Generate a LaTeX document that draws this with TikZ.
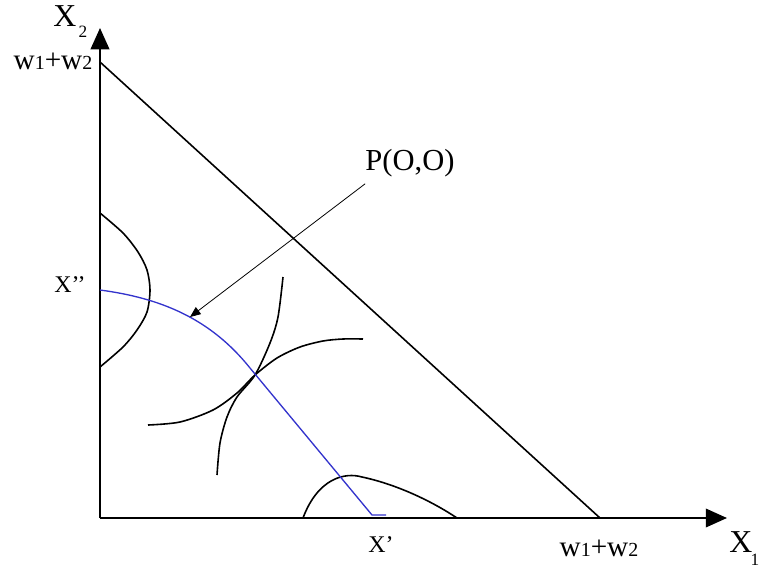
\documentclass[tikz,border=0pt]{standalone}
\usepackage{fontspec}
\setmainfont{Liberation Serif}
\usepackage{xcolor}
\definecolor{ccblue}{RGB}{51,51,204}
\usetikzlibrary{arrows.meta,positioning}
\tikzset{
  axis/.style={line width=1.5pt, -{Triangle[length=16pt,width=14pt]}},
  budget/.style={line width=1.2pt},
  icurve/.style={line width=1.2pt},
  contract/.style={line width=1pt, ccblue},
  pointer/.style={line width=0.6pt, -{Triangle[length=8pt,width=6.5pt]}},
  lbl/.style={inner sep=0pt, font=\fontsize{18}{18}\selectfont},
  big/.style={inner sep=0pt, font=\fontsize{24}{24}\selectfont},
  sub/.style={inner sep=0pt, font=\fontsize{13}{13}\selectfont}
}
\newcommand{\wsum}{w{\fontsize{15}{15}\selectfont 1}+w{\fontsize{15}{15}\selectfont 2}}
\begin{document}
\begin{tikzpicture}[x=0.02646cm, y=-0.02646cm]
  \useasboundingbox (0,0) rectangle (761,572);

  % Axes
  \coordinate (O) at (100,518);
  \coordinate (xend) at (727,518);
  \coordinate (yend) at (100,28);
  \draw[axis] (O) -- (xend);
  \draw[axis] (O) -- (yend);

  \node[big] (x2) at (65,16) {X};
  \node[sub] (x2sub) at (83,32) {2};
  \node[big] (x1) at (741,542) {X};
  \node[sub] (x1sub) at (755,560) {1};

  % Budget line
  \coordinate (btop) at (100,62);
  \coordinate (bbot) at (600,518);
  \draw[budget] (btop) -- (bbot);
  \node[lbl, font=\fontsize{22}{22}\selectfont] (wtop) at (53,61) {\wsum};
  \node[lbl, font=\fontsize{22}{22}\selectfont] (wbot) at (599,548) {\wsum};

  % Indifference curves
  \draw[icurve] plot[smooth] coordinates {(100,213) (123,233) (138,252) (147,270) (150,290) (147,312) (137,330) (123,347) (100,367)};
  \draw[icurve] plot[smooth] coordinates {(283,277) (278,317) (270,343) (255,375) (237,397) (227,417) (220,443) (217,475)};
  \draw[icurve] plot[smooth] coordinates {(148,425) (180,422) (213,410) (237,393) (255,375) (277,358) (300,347) (323,341) (343,339) (363,339)};
  \draw[icurve] (303,518) .. controls (318,478) and (345,472) .. (362,477) .. controls (395,484) and (430,500) .. (457,518);

  % Contract curve
  \draw[contract] (100,290) .. controls (160,298) and (210,318) .. (250,368) -- (372,515) -- (386,515);
  \node[lbl] (xpp) at (70,285) {X’{}’};
  \node[lbl] (xp) at (381,545) {X’};

  % Label with pointer
  \node[lbl, font=\fontsize{23}{23}\selectfont] (plabel) at (410,163) {P(O,O)};
  \coordinate (ptip) at (190,317);
  \draw[pointer] ([yshift=-5pt]plabel.south west) -- (ptip);
\end{tikzpicture}
\end{document}
